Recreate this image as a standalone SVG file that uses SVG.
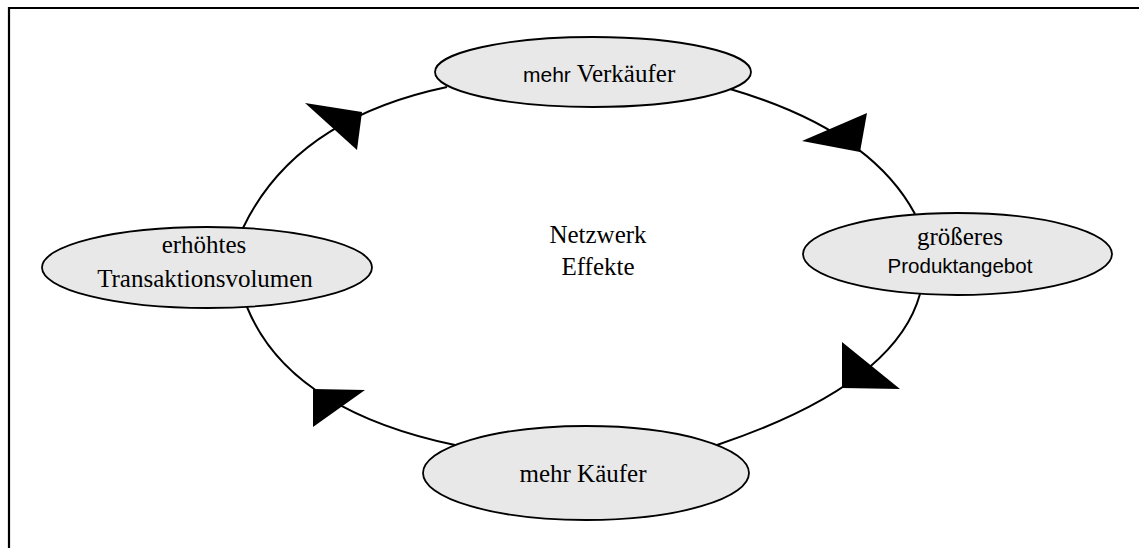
<svg xmlns="http://www.w3.org/2000/svg" width="1139" height="548" viewBox="0 0 1139 548">
  <style>
    .frame { stroke: #000; stroke-width: 2.2; fill: none; }
    .node ellipse { fill: #e8e8e8; stroke: #000; stroke-width: 1.8; }
    .serif { font-family: "Liberation Serif", "Times New Roman", serif; font-size: 25px; fill: #000; }
    .sans { font-family: "Liberation Sans", Arial, sans-serif; fill: #000; }
    .link { fill: none; stroke: #000; stroke-width: 2; }
    .head { fill: #000; stroke: none; }
  </style>
  <rect width="1139" height="548" fill="#fff"/>

  <!-- page frame: top rule and left rule -->
  <path class="frame" d="M9,548 V8 H1139"/>

  <!-- cycle connectors with arrowheads -->
  <g id="connectors">
    <path class="link" d="M243,228 Q295,119 447,87"/>
    <path class="link" d="M730,89 Q870,130 915,214"/>
    <path class="link" d="M920,294 Q895,385 717,445"/>
    <path class="link" d="M455,445 Q289,410 247,307"/>
    <polygon class="head" points="362,112 305,103 357,150"/>
    <polygon class="head" points="860,152 802,141 867,113"/>
    <polygon class="head" points="842,388 842,342 900,389"/>
    <polygon class="head" points="313,389 365,390 313,427"/>
  </g>

  <g id="node-verkaeufer" class="node">
    <ellipse cx="593" cy="72" rx="158" ry="35"/>
    <text x="523" y="82"><tspan class="sans" font-size="21">mehr</tspan><tspan class="serif"> Verkäufer</tspan></text>
  </g>

  <g id="node-produktangebot" class="node">
    <ellipse cx="957.5" cy="254" rx="154.5" ry="41"/>
    <text class="serif" x="960" y="245" text-anchor="middle">größeres</text>
    <text class="sans" x="960" y="273" font-size="20.5" text-anchor="middle">Produktangebot</text>
  </g>

  <g id="node-kaeufer" class="node">
    <ellipse cx="586" cy="473" rx="163" ry="47"/>
    <text class="serif" x="583" y="482" text-anchor="middle">mehr Käufer</text>
  </g>

  <g id="node-transaktionsvolumen" class="node">
    <ellipse cx="207" cy="267.5" rx="165" ry="40.5"/>
    <text class="serif" x="204" y="253" text-anchor="middle">erhöhtes</text>
    <text class="serif" x="205" y="287" text-anchor="middle">Transaktionsvolumen</text>
  </g>

  <g id="label-center">
    <text class="serif" x="598" y="243" text-anchor="middle">Netzwerk</text>
    <text class="serif" x="598" y="275" text-anchor="middle">Effekte</text>
  </g>
</svg>
